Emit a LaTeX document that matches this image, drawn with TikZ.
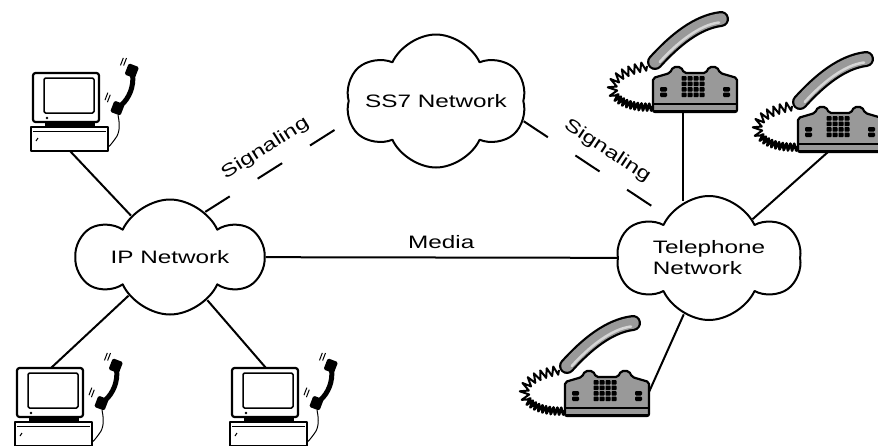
\documentclass[tikz,border=0pt]{standalone}
\usepackage{fontspec}
% letters in this drawing run wide
\setmainfont[FakeStretch=1.35]{Liberation Sans}
\usetikzlibrary{shapes.symbols,decorations.pathmorphing}

\definecolor{phonegray}{gray}{0.6}
\definecolor{phonelight}{gray}{0.84}

\tikzset{
  net/.style={cloud, cloud puffs=6, cloud puff arc=130, cloud ignores aspect,
              draw, line width=2, fill=white, inner sep=0pt, align=left,
              font=\fontsize{18}{21}\selectfont},
  lbl/.style={font=\fontsize{18}{21}\selectfont, inner sep=2pt},
  link/.style={line width=2},
  signal/.style={link, dash pattern=on 29pt off 33pt},
  % desktop computer with a receiver next to it
  pc/.pic={
    % monitor
    \draw[line width=2.2, rounded corners=2.5, fill=white] (0,0) rectangle (66,49);
    \draw[line width=1.5, rounded corners=1.5] (11,5) rectangle (61,40);
    \fill (14,45) circle (1.4);
    % stand and base
    \fill (12,49) rectangle (62,54);
    \draw[line width=2.2, fill=white] (-2,54) rectangle (75,78);
    \draw[line width=0.8] (0,58.5) -- (73,58.5);
    \draw[line width=1] (3,68) -- (5,65);
    % receiver
    \begin{scope}[shift={(93,17)}, rotate=-21]
      \fill[rounded corners=1.5] (-7,-26) rectangle (4,-14);
      \fill[rounded corners=1.5] (-7,14) rectangle (4,26);
      \draw[line width=5] (1,-16) .. controls (6,-6) and (6,6) .. (1,16);
      \draw[line width=1] (-11,-30) -- (-11,-22) (-14,-29) -- (-14,-21);
      \draw[line width=1] (-13,10) -- (-13,18) (-16,9) -- (-16,17);
    \end{scope}
    % cord
    \draw[line width=1] (85,42) .. controls (87,52) and (87,60) .. (82,66)
                        .. controls (79,70) and (77,73) .. (75,74);
    \coordinate (-top) at (34,0);
    \coordinate (-bottom) at (37,78);
  },
  % desk telephone, origin at the lower left of the body
  phone/.pic={
    % coiled cord
    \draw[line width=2, decorate, decoration={zigzag, segment length=6.5, amplitude=4.5}]
      (-6,-46) .. controls (-28,-42) and (-48,-32) .. (-38,-16);
    \draw[line width=2.6, decorate, decoration={zigzag, segment length=4, amplitude=3.5}]
      (-38,-16) .. controls (-30,-7) and (-14,-4) .. (1,-5);
    % handset
    \draw[line width=16, line cap=round] (2,-50) .. controls (22,-72) and (44,-90) .. (68,-93);
    \draw[line width=11.5, line cap=round, phonegray] (2,-50) .. controls (22,-72) and (44,-90) .. (68,-93);
    \begin{scope}[shift={(2,3)}]
      \draw[line width=2.5, line cap=round, phonelight, shorten <=4, shorten >=4]
        (2,-50) .. controls (22,-72) and (44,-90) .. (68,-93);
    \end{scope}
    % body
    \filldraw[fill=phonegray, line width=2.2, rounded corners=2]
      (0,0) -- (0,-34) -- (17,-39) -- (20,-45) -- (28,-45) -- (31,-39)
      -- (53,-39) -- (56,-45) -- (64,-45) -- (67,-39) -- (84,-34) -- (84,0) -- cycle;
    \draw[line width=1.6] (0,-8) -- (84,-8);
    \draw[line width=3] (1,-1) -- (83,-1);
    % keys
    \foreach \i in {0,...,3}
      \foreach \j in {0,...,3}
        \fill[rounded corners=0.8] (28.5+6*\i,-36+5.5*\j) rectangle +(5,4.6);
    \foreach \x in {7,70}
      \foreach \y in {-25,-19.5}
        \fill[rounded corners=1.2] (\x,\y) rectangle +(7,4.6);
    \coordinate (-jack) at (30,0);
    \coordinate (-side) at (84,-24);
  }
}

\begin{document}
\begin{tikzpicture}[x=1pt, y=-1pt, line join=round]
  \useasboundingbox (0,0) rectangle (878,445);

  %% Networks.
  \node[net, minimum width=184pt, minimum height=115pt] (ip) at (170,257) {IP Network};
  \node[net, minimum width=178pt, minimum height=133pt] (ss7) at (436,101) {SS7 Network};
  \node[net, minimum width=182pt, minimum height=124pt] (tel) at (709,258)
    {Telephone\\Network};

  %% Terminals.
  \pic (pcA) at (33,73) {pc};
  \pic (pcB) at (17,368) {pc};
  \pic (pcC) at (232,368) {pc};
  \pic (phA) at (653,112) {phone};
  \pic (phB) at (798,152) {phone};
  \pic (phC) at (565,416) {phone};

  %% Links.
  \draw[link] (pcA-bottom) -- (ip);
  \draw[link] (pcB-top) -- (ip);
  \draw[link] (pcC-top) -- (ip);
  \draw[link] (ip) -- node[lbl, above=6pt] (media) {Media} (tel);
  \draw[signal] (ip.52) -- node[lbl, sloped, above=10pt] (sigA) {Signaling} (ss7.193);
  \draw[signal] (ss7.-13) -- node[lbl, sloped, above=10pt] (sigB) {Signaling} (tel.135);
  \draw[link] (phA-jack) -- (phA-jack |- tel.112);
  \draw[link] (phB-jack) -- (tel);
  \draw[link] (phC-side) -- (tel);
\end{tikzpicture}
\end{document}
